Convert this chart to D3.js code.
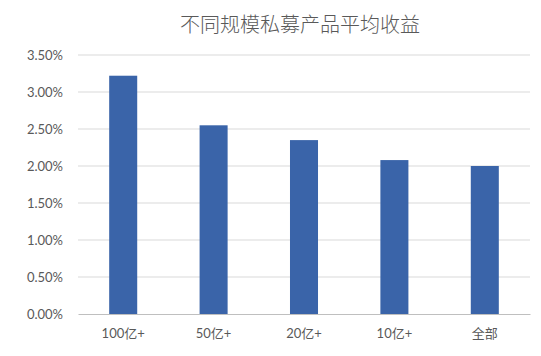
<!DOCTYPE html>
<html>
<head>
<meta charset="utf-8">
<script src="https://cdn.jsdelivr.net/npm/d3@7"></script>
<style>
  body { margin: 0; background: #fff; }
  svg text { font-family: Lato, "Noto Sans CJK SC", sans-serif; fill: #595959; }
</style>
</head>
<body>
<svg id="chart" width="541" height="356"></svg>
<script>
const categories = ["100亿+", "50亿+", "20亿+", "10亿+", "全部"];
const returns = [0.0322, 0.0255, 0.0235, 0.0208, 0.0200];
const yTicks = [0, 0.005, 0.01, 0.015, 0.02, 0.025, 0.03, 0.035];
const title = "不同规模私募产品平均收益";

const W = 541, H = 356;
const m = { left: 78, right: 11, top: 55, bottom: 42 };
const pw = W - m.left - m.right, ph = H - m.top - m.bottom;

let svg = d3.select("#chart");

svg.append("text")
    .attr("x", 300).attr("y", 32)
    .attr("text-anchor", "middle")
    .style("font-size", "20px")
    .style("font-family", "'Noto Sans CJK SC', sans-serif")
    .style("font-weight", 300)
    .text(title);

let g = svg.append("g").attr("transform", `translate(${m.left},${m.top})`);

/* scales */
let x = d3.scaleBand().domain(categories).range([0, pw]).paddingInner(0.69).paddingOuter(0.345);
let y = d3.scaleLinear().domain([0, 0.035]).range([ph, 0]);

/* gridlines */
g.append("g").selectAll("line")
    .data(yTicks.slice(1))
    .join("line")
    .attr("x1", 0).attr("x2", pw)
    .attr("y1", d => y(d)).attr("y2", d => y(d))
    .attr("stroke", "#d9d9d9").attr("stroke-width", 1);

/* y axis labels */
let yAxis = g.append("g")
    .call(d3.axisLeft(y).tickValues(yTicks).tickFormat(d3.format(".2%")).tickSize(0).tickPadding(15));
yAxis.select(".domain").remove();
yAxis.selectAll("text").style("font-size", "13px");

/* bars */
g.append("g").selectAll("rect")
    .data(returns)
    .join("rect")
    .attr("x", (d, i) => x(categories[i]))
    .attr("width", x.bandwidth())
    .attr("y", d => y(d))
    .attr("height", d => ph - y(d))
    .attr("fill", "#3a64a9");

/* x axis */
let xAxis = g.append("g")
    .attr("transform", `translate(0,${ph})`)
    .call(d3.axisBottom(x).tickSize(0).tickPadding(15));
xAxis.select(".domain").attr("stroke", "#bfbfbf");
xAxis.selectAll("text").style("font-size", "13px");
</script>
</body>
</html>
